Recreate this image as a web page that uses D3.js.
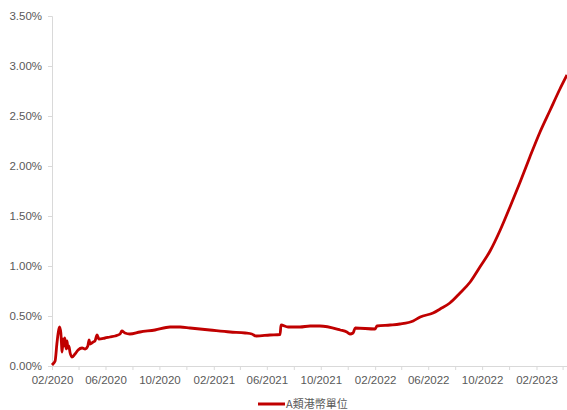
<!DOCTYPE html>
<html lang="en">
<head>
<meta charset="UTF-8">
<title>A類港幣單位</title>
<script src="https://d3js.org/d3.v7.min.js"></script>
<style>
    body { margin: 0; background: #fff; overflow: hidden; }
    svg text { font-family: Arial, "Liberation Sans", sans-serif; fill: #595959; }
</style>
</head>
<body>
<div id="chart"></div>
<script>
// data (value in %)
const dates = ["2020-02-01","2020-02-03","2020-02-08","2020-02-12","2020-02-15","2020-02-18","2020-02-21","2020-02-24",
    "2020-02-26","2020-02-28","2020-03-01","2020-03-04","2020-03-06","2020-03-08","2020-03-10","2020-03-13","2020-03-17",
    "2020-03-24","2020-03-31","2020-04-09","2020-04-16","2020-04-22","2020-04-25","2020-04-27","2020-05-04","2020-05-08",
    "2020-05-13","2020-05-17","2020-05-31","2020-06-11","2020-06-23","2020-07-04","2020-07-08","2020-07-15","2020-07-26",
    "2020-08-18","2020-09-21","2020-10-25","2020-11-17","2020-12-09","2021-01-23","2021-03-10","2021-04-13","2021-04-28",
    "2021-05-08","2021-06-08","2021-07-01","2021-07-03","2021-07-19","2021-08-15","2021-09-07","2021-09-29","2021-11-14",
    "2021-11-29","2021-12-06","2021-12-13","2021-12-18","2022-02-01","2022-02-05","2022-03-07","2022-03-29","2022-04-28",
    "2022-05-14","2022-06-12","2022-06-28","2022-07-20","2022-08-12","2022-09-04","2022-09-26","2022-10-19","2022-11-11",
    "2022-12-03","2022-12-26","2023-01-17","2023-02-09","2023-03-04","2023-03-26","2023-04-11"];
const values = [0.01,0.02,0.05,0.22,0.33,0.39,0.33,0.14,
    0.27,0.20,0.28,0.17,0.25,0.18,0.20,0.13,0.09,
    0.12,0.16,0.18,0.17,0.20,0.26,0.22,0.24,0.25,
    0.31,0.27,0.28,0.29,0.30,0.32,0.35,0.33,0.32,
    0.34,0.36,0.39,0.39,0.38,0.36,0.34,0.33,0.32,
    0.30,0.31,0.315,0.41,0.39,0.39,0.40,0.40,0.36,
    0.34,0.32,0.33,0.38,0.37,0.40,0.41,0.42,0.45,
    0.49,0.53,0.57,0.63,0.73,0.84,0.99,1.15,1.36,
    1.59,1.84,2.09,2.34,2.56,2.77,2.91];
const yTicks = [0, 0.5, 1.0, 1.5, 2.0, 2.5, 3.0, 3.5];
const seriesName = "A類港幣單位";

const width = 567, height = 410;
const margin = { top: 16, right: 0, bottom: 44, left: 52 };

const parse = d3.timeParse("%Y-%m-%d");
const data = dates.map((d, i) => ({ date: parse(d), value: values[i] }));
const start = parse("2020-02-01");

const svg = d3.select("#chart").append("svg")
    .attr("width", width)
    .attr("height", height);

const x = d3.scaleTime()
    .domain([start, parse("2023-04-11")])
    .range([margin.left, width - margin.right]);

const y = d3.scaleLinear()
    .domain([0, 3.5])
    .range([height - margin.bottom, margin.top]);

// y axis
const yAxis = svg.append("g")
    .attr("transform", `translate(${margin.left},0)`)
    .call(d3.axisLeft(y).tickValues(yTicks).tickSize(4).tickPadding(6)
        .tickFormat(d => d.toFixed(2) + "%"));
yAxis.select(".domain").attr("stroke", "#d9d9d9");
yAxis.selectAll(".tick line").attr("stroke", "#d9d9d9");
yAxis.selectAll("text").style("font-size", "11.5px").attr("fill", "#595959");

// x axis: tick every 2 months from 02/2020, label every 4
const xTicks = d3.range(0, 20).map(i => d3.timeMonth.offset(start, i * 2))
    .filter(d => d <= x.domain()[1]);
const xAxis = svg.append("g")
    .attr("transform", `translate(0,${height - margin.bottom})`)
    .call(d3.axisBottom(x).tickValues(xTicks).tickSize(4).tickPadding(6)
        .tickFormat((d, i) => i % 2 === 0 ? d3.timeFormat("%m/%Y")(d) : ""));
xAxis.select(".domain").attr("stroke", "#d9d9d9");
xAxis.selectAll(".tick line").attr("stroke", "#d9d9d9");
xAxis.selectAll("text").style("font-size", "11.5px").attr("fill", "#595959");

// line
const line = d3.line()
    .curve(d3.curveMonotoneX)
    .x(d => x(d.date))
    .y(d => y(d.value));

svg.append("path")
    .datum(data)
    .attr("fill", "none")
    .attr("stroke", "#C00000")
    .attr("stroke-width", 2.8)
    .attr("stroke-linejoin", "round")
    .attr("d", line);

// legend
const legend = svg.append("g").attr("transform", "translate(258,404)");
legend.append("line")
    .attr("x1", 0).attr("x2", 27)
    .attr("stroke", "#C00000")
    .attr("stroke-width", 3);
legend.append("text")
    .attr("x", 28).attr("y", 4)
    .style("font-family", "'Noto Sans CJK TC', sans-serif")
    .style("font-size", "11px")
    .text(seriesName);
</script>
</body>
</html>
